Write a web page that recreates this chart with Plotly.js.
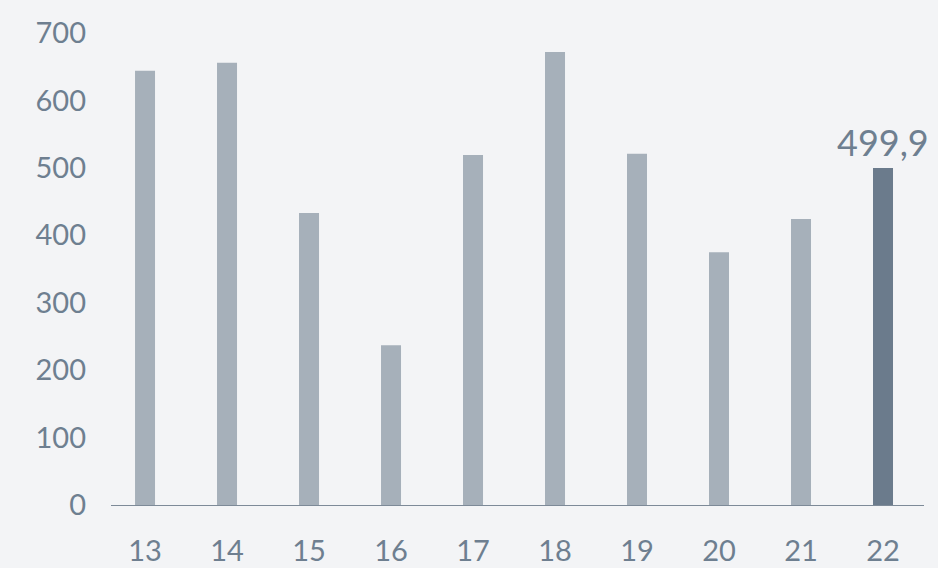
<!DOCTYPE html>
<html>
<head>
<meta charset="utf-8">
<script src="https://cdn.plot.ly/plotly-3.0.1.min.js"></script>
<style>
  html, body { margin: 0; padding: 0; background: #f3f4f6; }
  #chart { width: 938px; height: 568px; }
</style>
</head>
<body>
<div id="chart"></div>
<script>
const categories = ["13", "14", "15", "16", "17", "18", "19", "20", "21", "22"];
const values = [644, 656, 433, 237, 519, 672, 521, 375, 424, 499.9];
const highlightCategory = "22";
const highlightLabel = "499,9";
const yTicks = [0, 100, 200, 300, 400, 500, 600, 700];

const grey = "#a6b0ba";
const dark = "#6b7b8c";
const textColor = "#6e7f90";
const fontFamily = "Lato, 'Open Sans', sans-serif";

const hIndex = categories.indexOf(highlightCategory);

const trace = {
  type: "bar",
  x: categories,
  y: values,
  width: 0.244,
  marker: { color: categories.map(c => c === highlightCategory ? dark : grey) },
  hoverinfo: "x+y"
};

const layout = {
  width: 938,
  height: 568,
  paper_bgcolor: "#f3f4f6",
  plot_bgcolor: "#f3f4f6",
  margin: { l: 111, r: 14, t: 33, b: 63 },
  showlegend: false,
  font: { family: fontFamily, color: textColor, size: 28 },
  xaxis: {
    type: "category",
    range: [-0.415, 9.5],
    showgrid: false,
    zeroline: false,
    showline: true,
    linecolor: "#7d8a98",
    linewidth: 1,
    ticks: "",
    ticklabelstandoff: 20,
    tickfont: { family: fontFamily, size: 29, color: textColor }
  },
  yaxis: {
    range: [0, 700],
    tickvals: yTicks,
    ticktext: yTicks.map(String),
    showgrid: false,
    zeroline: false,
    showline: false,
    ticks: "",
    ticklabelstandoff: 24,
    tickfont: { family: fontFamily, size: 29, color: textColor }
  },
  annotations: [{
    x: hIndex,
    y: values[hIndex],
    xref: "x",
    yref: "y",
    text: highlightLabel,
    showarrow: false,
    xanchor: "center",
    yanchor: "bottom",
    yshift: 2,
    font: { family: fontFamily, size: 36, color: textColor }
  }]
};

Plotly.newPlot("chart", [trace], layout, { displayModeBar: false, staticPlot: true });
</script>
</body>
</html>
